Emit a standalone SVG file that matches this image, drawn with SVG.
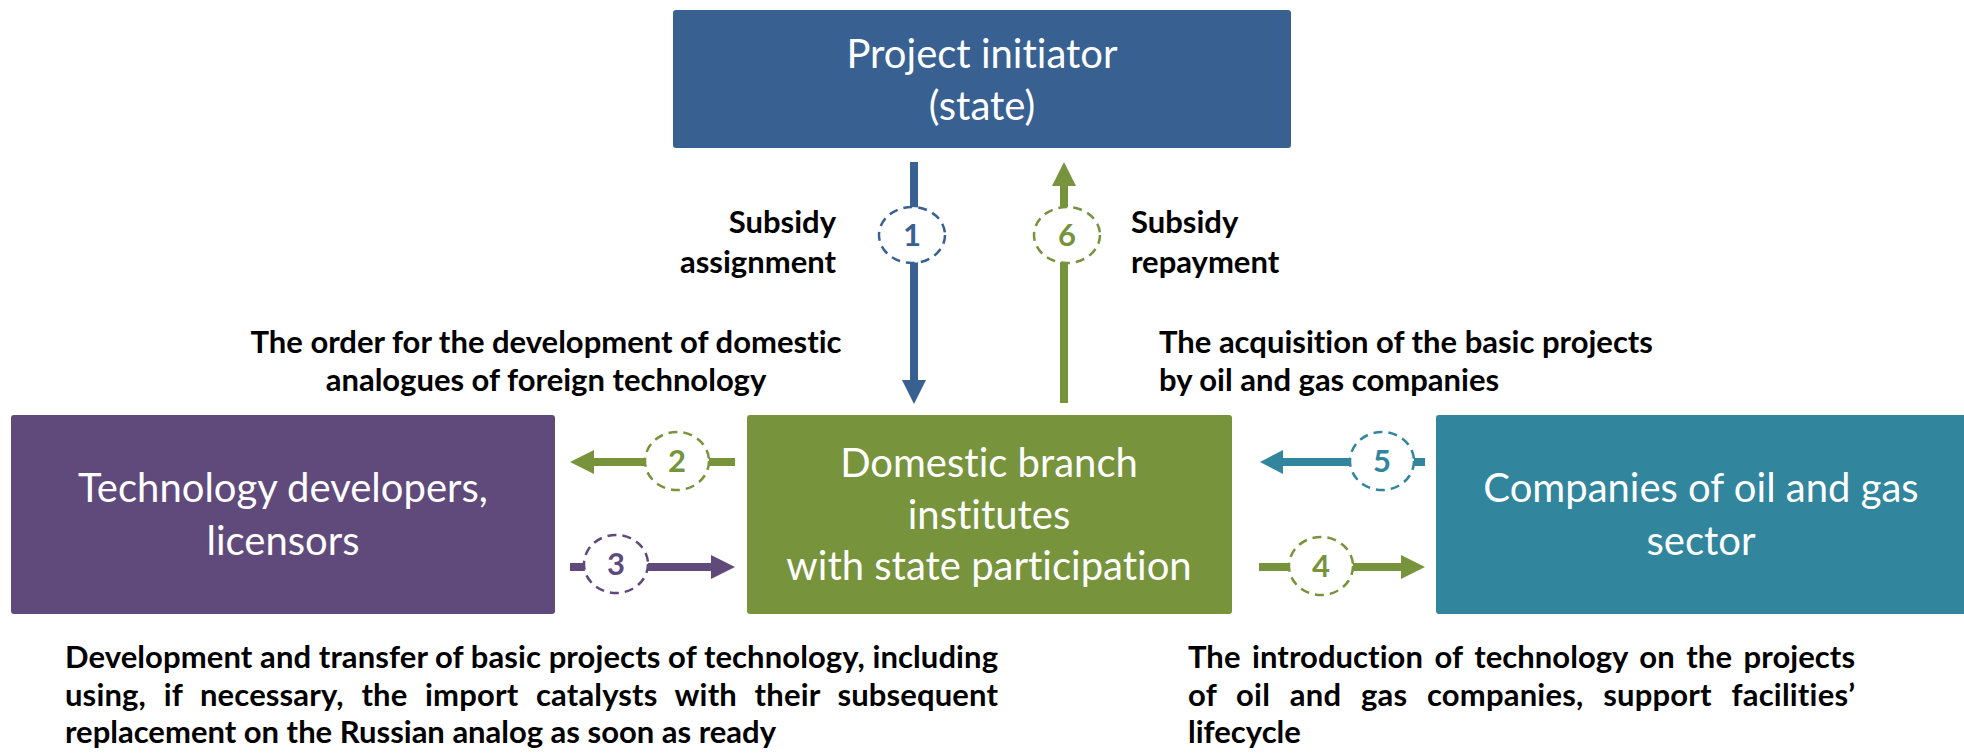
<svg xmlns="http://www.w3.org/2000/svg" width="1964" height="753" viewBox="0 0 1964 753">
<style>
text{font-variant-ligatures:none;font-feature-settings:"liga" 0,"dlig" 0,"clig" 0}
.box-t{font-family:Lato,"Open Sans","Liberation Sans",sans-serif;font-weight:400;font-size:40px;fill:#ffffff;text-anchor:middle}
.lbl{font-family:Lato,"Liberation Sans",sans-serif;font-weight:700;font-size:31px;fill:#000000}
.num{font-family:Lato,"Liberation Sans",sans-serif;font-weight:700;font-size:31px;text-anchor:middle}
.ring{fill:#ffffff;stroke-width:2.5;stroke-dasharray:9 6}
</style>
<rect width="1964" height="753" fill="#ffffff"/>

<g id="node-initiator">
<rect x="673" y="10" width="618" height="138" rx="3" fill="#386192"/>
<text class="box-t" x="982" y="68">Project initiator</text>
<text class="box-t" x="982" y="120">(state)</text>
</g>

<g id="node-developers">
<rect x="11" y="415" width="544" height="199" rx="3" fill="#604a7b"/>
<text class="box-t" x="283" y="502">Technology developers,</text>
<text class="box-t" x="283" y="555">licensors</text>
</g>

<g id="node-institutes">
<rect x="747" y="415" width="485" height="199" rx="3" fill="#77933c"/>
<text class="box-t" x="989" y="477">Domestic branch</text>
<text class="box-t" x="989" y="529">institutes</text>
<text class="box-t" x="989" y="580">with state participation</text>
</g>

<g id="node-companies">
<rect x="1436" y="415" width="540" height="199" rx="3" fill="#31859c"/>
<text class="box-t" x="1701" y="502">Companies of oil and gas</text>
<text class="box-t" x="1701" y="555">sector</text>
</g>

<g id="connectors">
<!-- 1 -->
<line x1="914" y1="162" x2="914" y2="382" stroke="#386192" stroke-width="8"/>
<polygon points="902,380 926,380 914,404" fill="#386192"/>
<ellipse class="ring" cx="912" cy="235" rx="33" ry="28" stroke="#386192"/>
<text class="num" x="912" y="246" fill="#386192">1</text>
<!-- 6 -->
<line x1="1064" y1="403" x2="1064" y2="184" stroke="#77933c" stroke-width="8"/>
<polygon points="1052,186 1076,186 1064,162" fill="#77933c"/>
<ellipse class="ring" cx="1067" cy="235" rx="33" ry="28" stroke="#77933c"/>
<text class="num" x="1067" y="246" fill="#77933c">6</text>
<!-- 2 -->
<line x1="735" y1="462" x2="592" y2="462" stroke="#77933c" stroke-width="8"/>
<polygon points="594,450 594,474 570,462" fill="#77933c"/>
<ellipse class="ring" cx="677" cy="461" rx="32" ry="29" stroke="#77933c"/>
<text class="num" x="677" y="472" fill="#77933c">2</text>
<!-- 3 -->
<line x1="570" y1="567" x2="713" y2="567" stroke="#604a7b" stroke-width="8"/>
<polygon points="711,555 711,579 735,567" fill="#604a7b"/>
<ellipse class="ring" cx="616" cy="564" rx="32" ry="29" stroke="#604a7b"/>
<text class="num" x="616" y="575" fill="#604a7b">3</text>
<!-- 5 -->
<line x1="1425" y1="462" x2="1280" y2="462" stroke="#31859c" stroke-width="8"/>
<polygon points="1283,450 1283,474 1260,462" fill="#31859c"/>
<ellipse class="ring" cx="1382" cy="461" rx="32" ry="29" stroke="#31859c"/>
<text class="num" x="1382" y="472" fill="#31859c">5</text>
<!-- 4 -->
<line x1="1259" y1="567" x2="1402" y2="567" stroke="#77933c" stroke-width="8"/>
<polygon points="1401,555 1401,579 1425,567" fill="#77933c"/>
<ellipse class="ring" cx="1321" cy="566" rx="32" ry="29" stroke="#77933c"/>
<text class="num" x="1321" y="577" fill="#77933c">4</text>
</g>

<g id="labels">
<text class="lbl" x="836" y="233" text-anchor="end">Subsidy</text>
<text class="lbl" x="836" y="273" text-anchor="end">assignment</text>
<text class="lbl" x="1131" y="233">Subsidy</text>
<text class="lbl" x="1131" y="273">repayment</text>
<text class="lbl" x="546" y="353" text-anchor="middle">The order for the development of domestic</text>
<text class="lbl" x="546" y="391" text-anchor="middle">analogues of foreign technology</text>
<text class="lbl" x="1159" y="353">The acquisition of the basic projects</text>
<text class="lbl" x="1159" y="391">by oil and gas companies</text>
<text class="lbl" x="65" y="668" textLength="933" lengthAdjust="spacing">Development and transfer of basic projects of technology, including</text>
<text class="lbl" x="65" y="706" word-spacing="10" textLength="933" lengthAdjust="spacing">using, if necessary, the import catalysts with their subsequent</text>
<text class="lbl" x="65" y="743">replacement on the Russian analog as soon as ready</text>
<text class="lbl" x="1188" y="668" word-spacing="4" textLength="667" lengthAdjust="spacing">The introduction of technology on the projects</text>
<text class="lbl" x="1188" y="706" word-spacing="12" textLength="667" lengthAdjust="spacing">of oil and gas companies, support facilities’</text>
<text class="lbl" x="1188" y="743">lifecycle</text>
</g>
</svg>
